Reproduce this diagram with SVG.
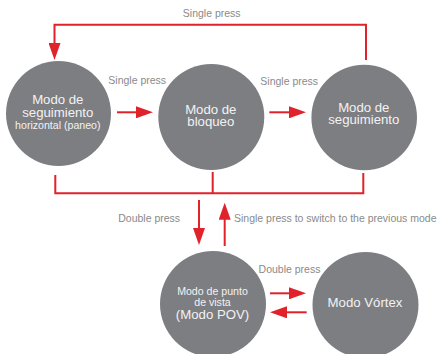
<svg xmlns="http://www.w3.org/2000/svg" width="440" height="354" viewBox="0 0 440 354">
  <defs>
    <marker id="ah" markerUnits="userSpaceOnUse" markerWidth="17" markerHeight="12" refX="2" refY="6" orient="auto">
      <path d="M0,0 L17,6 L0,12 Z" fill="#e0222b"/>
    </marker>
    <style>
      .node circle { fill: #7d7e82; }
      .node text { fill: #f2f2f2; font-family: "Liberation Sans", Arial, sans-serif; text-anchor: middle; }
      .big { font-size: 13.2px; }
      .small { font-size: 10.6px; }
      .conn { stroke: #e0222b; stroke-width: 2; fill: none; }
      .lbl { fill: #8a8a8a; font-family: "Liberation Sans", Arial, sans-serif; font-size: 10.5px; }
    </style>
  </defs>
  <rect width="440" height="354" fill="#ffffff"/>

  <g id="connectors">
    <polyline class="conn" points="366,60 366,24.7 54.5,24.7 54.5,45" marker-end="url(#ah)"/>
    <line class="conn" x1="117" y1="112.3" x2="138" y2="112.3" marker-end="url(#ah)"/>
    <line class="conn" x1="269.3" y1="112.3" x2="291" y2="112.3" marker-end="url(#ah)"/>
    <polyline class="conn" points="55.3,175 55.3,193.3 363.3,193.3 363.3,173"/>
    <line class="conn" x1="212.7" y1="172" x2="212.7" y2="193.3"/>
    <line class="conn" x1="199" y1="200" x2="199" y2="230" marker-end="url(#ah)"/>
    <line class="conn" x1="224.7" y1="246" x2="224.7" y2="217.7" marker-end="url(#ah)"/>
    <line class="conn" x1="270" y1="293.3" x2="291" y2="293.3" marker-end="url(#ah)"/>
    <line class="conn" x1="306.7" y1="312.3" x2="285" y2="312.3" marker-end="url(#ah)"/>
  </g>

  <g id="labels">
    <text class="lbl" x="211.7" y="16.7" text-anchor="middle">Single press</text>
    <text class="lbl" x="137.2" y="84.3" text-anchor="middle">Single press</text>
    <text class="lbl" x="289.2" y="85" text-anchor="middle">Single press</text>
    <text class="lbl" x="149.2" y="221.7" text-anchor="middle">Double press</text>
    <text class="lbl" x="234" y="221.7">Single press to switch to the previous mode</text>
    <text class="lbl" x="289.5" y="272.7" text-anchor="middle">Double press</text>
  </g>

  <g id="node-paneo" class="node">
    <circle cx="58.5" cy="113.5" r="52.5"/>
    <text class="big" x="57.8" y="104">Modo de</text>
    <text class="big" x="57.8" y="116.5">seguimiento</text>
    <text class="small" x="57.8" y="129.3">horizontal (paneo)</text>
  </g>

  <g id="node-bloqueo" class="node">
    <circle cx="211.3" cy="117" r="53"/>
    <text class="big" x="210.8" y="113.6">Modo de</text>
    <text class="big" x="210.8" y="125.8">bloqueo</text>
  </g>

  <g id="node-seguimiento" class="node">
    <circle cx="364.2" cy="117.5" r="52.8"/>
    <text class="big" x="363.8" y="111.7">Modo de</text>
    <text class="big" x="363.8" y="124">seguimiento</text>
  </g>

  <g id="node-pov" class="node">
    <circle cx="213" cy="304" r="53"/>
    <text class="small" x="212.5" y="295">Modo de punto</text>
    <text class="small" x="212.5" y="306">de vista</text>
    <text class="big" x="212.5" y="319">(Modo POV)</text>
  </g>

  <g id="node-vortex" class="node">
    <circle cx="365.5" cy="305" r="53"/>
    <text class="big" x="365" y="307.3">Modo Vórtex</text>
  </g>
</svg>
